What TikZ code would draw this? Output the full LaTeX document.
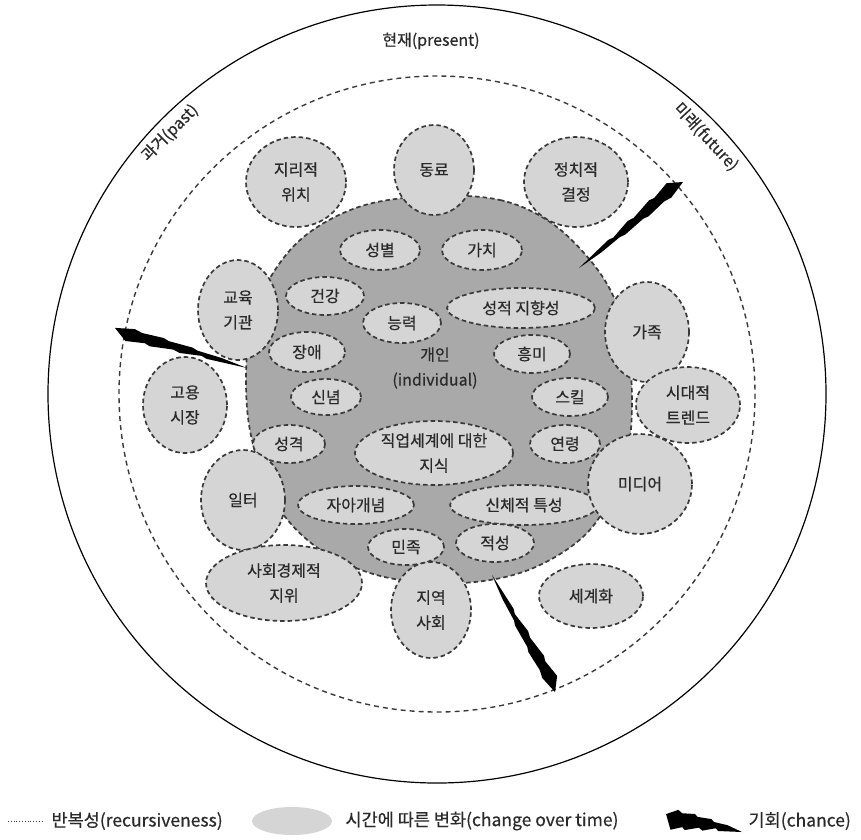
\documentclass[tikz,border=0pt]{standalone}
\usepackage{fontspec}
\setmainfont{Noto Sans CJK KR}[FakeBold=0.5]
\usepackage{tikz}
\usetikzlibrary{shapes.geometric}
\definecolor{pale}{HTML}{D5D5D5}
\definecolor{mid}{HTML}{A9A9A9}
\definecolor{rim}{HTML}{3A3A3A}
\definecolor{ink}{HTML}{2A2A2A}

\begin{document}
\begin{tikzpicture}[
  x=1pt, y=-1pt,
  font=\fontsize{16}{25}\selectfont,
  factor/.style={ellipse, draw=rim, fill=pale, line width=1.7pt, dash pattern=on 4.5pt off 3pt, inner sep=0pt, align=center, text=ink},
  era/.style={text=ink},
  key/.style={text=ink, anchor=west, font=\fontsize{17.5}{20}\selectfont},
  chance/.pic={\fill[black] (0,0) -- (0.3,-3) -- (0.34,-1.6) -- (0.5,-5.2) -- (0.55,-3.8) -- (0.72,-7.5) -- (0.76,-6) -- (0.9,-9.5) -- (1,0) -- (0.86,4.6) -- (0.8,3) -- (0.64,4.5) -- (0.6,3) -- (0.42,3.7) -- (0.38,2.2) -- (0.2,2.2) -- cycle;}
]
\useasboundingbox (0,0) rectangle (861,839);

% time rings
\coordinate (o) at (437,394);
\draw[line width=1.2pt] (o) circle[radius=389];
\draw[rim, line width=1.4pt, dash pattern=on 5pt off 4pt] (o) circle[radius=318];
\node[era] (present) at (431,41) {현재(present)};
\node[era, rotate=45] (past) at (170,133) {과거(past)};
\node[era, rotate=-47] (future) at (706,137) {미래(future)};

% individual
\draw[draw=rim, fill=mid, line width=1.7pt, dash pattern=on 4.5pt off 3pt]
  plot[smooth cycle, tension=0.6] coordinates {(434,196) (500,200) (550,222) (590,260) (615,300) (628,350) (632,400) (628,450) (612,495) (585,535) (540,565) (490,580) (430,583) (370,573) (315,546) (275,502) (252,440) (246,380) (252,320) (275,270) (310,232) (365,205)};
\node[text=ink, align=center] (indiv) at (435,368) {개인\\(individual)};

\node[factor, minimum width=80, minimum height=40] (gender) at (380,250) {성별};
\node[factor, minimum width=80, minimum height=40] (value) at (482,250) {가치};
\node[factor, minimum width=78, minimum height=38] (health) at (325,296) {건강};
\node[factor, minimum width=148, minimum height=40] (orient) at (521,308) {성적 지향성};
\node[factor, minimum width=78, minimum height=40] (ability) at (402,323) {능력};
\node[factor, minimum width=76, minimum height=40] (disab) at (307,352) {장애};
\node[factor, minimum width=76, minimum height=38] (interest) at (532,354) {흥미};
\node[factor, minimum width=70, minimum height=36] (belief) at (326,397) {신념};
\node[factor, minimum width=76, minimum height=38] (skill) at (570,397) {스킬};
\node[factor, minimum width=72, minimum height=38] (persona) at (289,444) {성격};
\node[factor, minimum width=158, minimum height=64] (knowledge) at (434,453) {직업세계에 대한\\지식};
\node[factor, minimum width=70, minimum height=38] (age) at (565,444) {연령};
\node[factor, minimum width=116, minimum height=38] (selfc) at (356,505) {자아개념};
\node[factor, minimum width=148, minimum height=40] (physical) at (524,505) {신체적 특성};
\node[factor, minimum width=76, minimum height=36] (ethnic) at (406,547) {민족};
\node[factor, minimum width=78, minimum height=38] (aptitude) at (495,543) {적성};

% context
\node[factor, minimum width=100, minimum height=90] (geo) at (296,182) {지리적\\위치};
\node[factor, minimum width=80, minimum height=90] (peer) at (434,170) {동료};
\node[factor, minimum width=104, minimum height=90] (policy) at (576,182) {정치적\\결정};
\node[factor, minimum width=80, minimum height=100] (edu) at (238,310) {교육\\기관};
\node[factor, minimum width=84, minimum height=100] (family) at (647,332) {가족};
\node[factor, minimum width=84, minimum height=96] (market) at (185,405) {고용\\시장};
\node[factor, minimum width=104, minimum height=76] (trend) at (688,405) {시대적\\트렌드};
\node[factor, minimum width=84, minimum height=100] (work) at (243,500) {일터};
\node[factor, minimum width=104, minimum height=100] (media) at (640,484) {미디어};
\node[factor, minimum width=156, minimum height=76] (ses) at (284,583) {사회경제적\\지위};
\node[factor, minimum width=80, minimum height=96] (community) at (431,610) {지역\\사회};
\node[factor, minimum width=104, minimum height=64] (global) at (591,596) {세계화};

% chance events
\pic[rotate=39.6, xscale=135] at (579,268) {chance};
\pic[rotate=163.1, xscale=138] at (247,368) {chance};
\pic[rotate=-61.7, xscale=133] at (492,575) {chance};

% legend
\coordinate (dot1) at (8,821);
\coordinate (dot2) at (42,821);
\draw[rim, dotted, line width=0.8pt] (dot1) -- (dot2);
\node[key] (keyrec) at (48,821) {반복성(recursiveness)};
\node[ellipse, fill=pale, minimum width=80, minimum height=28] (keyblob) at (292,821) {};
\node[key] (keytime) at (342,821) {시간에 따른 변화(change over time)};
\pic[rotate=166.7, xscale=78, yscale=1.5] at (742,832) {chance};
\node[key] (keychance) at (745,821) {기회(chance)};
\end{tikzpicture}
\end{document}
